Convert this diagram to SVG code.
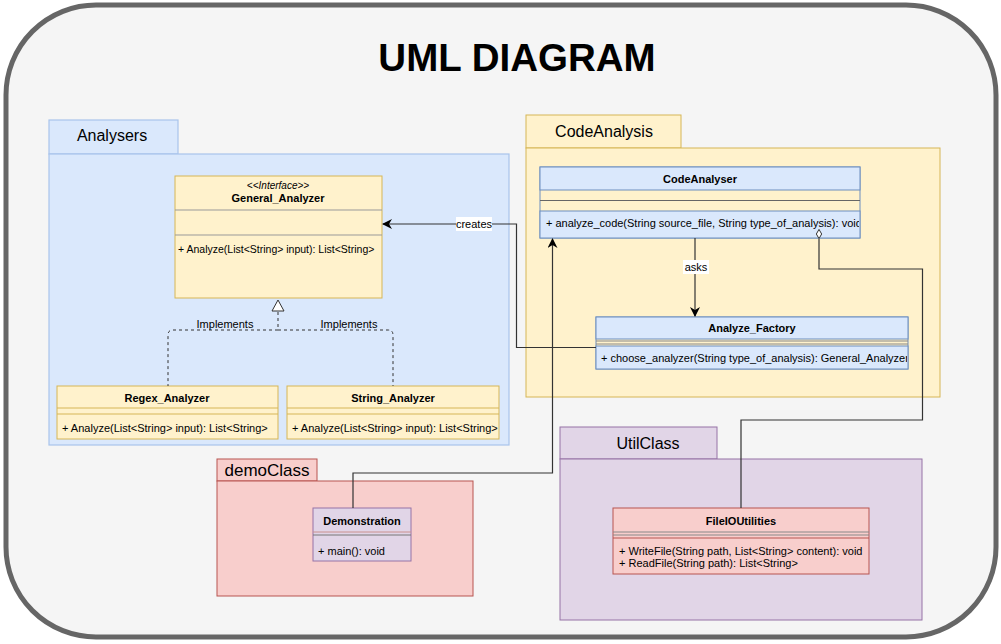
<svg xmlns="http://www.w3.org/2000/svg" width="1001" height="644" viewBox="0 0 1001 644">
<style>
text{font-family:"Liberation Sans",Arial,sans-serif;fill:#000}
.pkgl{font-size:16px;text-anchor:middle}
.cn{font-size:11px;font-weight:bold;text-anchor:middle}
.m{font-size:11px}
.lbl{font-size:11px;text-anchor:middle}
.blue{fill:#dae8fc;stroke:#6c8ebf;stroke-width:1}
.yel{fill:#fff2cc;stroke:#d6b656;stroke-width:1}
.red{fill:#f8cecc;stroke:#b85450;stroke-width:1}
.pur{fill:#e1d5e7;stroke:#9673a6;stroke-width:1}
.pkgblue{fill:#dae8fc;stroke:#a9c4eb;stroke-width:1.2}
.edge{fill:none;stroke:#333;stroke-width:1.2}
.dash{fill:none;stroke:#333;stroke-width:1;stroke-dasharray:3 3}
</style>
<defs>
<marker id="arr" viewBox="0 0 10 10" refX="9" refY="5" markerWidth="10" markerHeight="10" markerUnits="userSpaceOnUse" orient="auto">
<path d="M0,0 L10,5 L0,10 L3,5 Z" fill="#000"/>
</marker>
<marker id="dia" viewBox="0 0 12 8" refX="0" refY="4" markerWidth="10" markerHeight="7" markerUnits="userSpaceOnUse" orient="auto">
<path d="M0.5,4 L6,0.8 L11.5,4 L6,7.2 Z" fill="#fff" stroke="#333" stroke-width="1.2"/>
</marker>
<clipPath id="c1"><rect x="540" y="211" width="319" height="27"/></clipPath>
<clipPath id="c2"><rect x="596" y="346" width="311" height="23"/></clipPath>
<clipPath id="c3"><rect x="287" y="414" width="211" height="25"/></clipPath>
</defs>

<rect x="6" y="5" width="990" height="632" rx="90" ry="90" fill="#f5f5f5" stroke="#666" stroke-width="5"/>
<text x="517" y="71" style="font-size:38.5px;font-weight:bold;text-anchor:middle">UML DIAGRAM</text>

<g id="pkg-analysers">
<rect x="49" y="120" width="129" height="34" class="pkgblue"/>
<rect x="49" y="154" width="460" height="291" class="pkgblue"/>
<text x="112" y="141" class="pkgl">Analysers</text>
</g>

<g id="pkg-codeanalysis">
<rect x="526" y="115" width="155" height="33" class="yel"/>
<rect x="526" y="148" width="414" height="249" class="yel"/>
<text x="604" y="137" class="pkgl">CodeAnalysis</text>
</g>

<g id="pkg-democlass">
<rect x="217" y="459" width="100" height="22" class="red"/>
<rect x="217" y="481" width="256" height="115" class="red"/>
<text x="267" y="476" class="pkgl" style="font-size:17px">demoClass</text>
</g>

<g id="pkg-utilclass">
<rect x="560" y="427" width="157" height="32" class="pur"/>
<rect x="560" y="459" width="362" height="161" class="pur"/>
<text x="648" y="449" class="pkgl">UtilClass</text>
</g>

<g id="general-analyzer">
<rect x="175" y="176" width="207" height="122" class="yel"/>
<line x1="175" y1="210" x2="382" y2="210" style="stroke:#999"/>
<line x1="175" y1="235" x2="382" y2="235" style="stroke:#999"/>
<text x="278" y="189" style="font-size:10px;font-style:italic;text-anchor:middle">&lt;&lt;Interface&gt;&gt;</text>
<text x="278" y="202" class="cn">General_Analyzer</text>
<text x="178" y="253" class="m" style="font-size:10.5px">+ Analyze(List&lt;String&gt; input): List&lt;String&gt;</text>
</g>

<g id="regex-analyzer">
<rect x="57" y="386" width="221" height="53" class="yel"/>
<line x1="57" y1="408" x2="278" y2="408" stroke="#d6b656"/>
<line x1="57" y1="414" x2="278" y2="414" stroke="#d6b656"/>
<text x="167" y="402" class="cn">Regex_Analyzer</text>
<text x="62" y="432" class="m">+ Analyze(List&lt;String&gt; input): List&lt;String&gt;</text>
</g>

<g id="string-analyzer">
<rect x="287" y="386" width="212" height="53" class="yel"/>
<line x1="287" y1="408" x2="499" y2="408" stroke="#d6b656"/>
<line x1="287" y1="414" x2="499" y2="414" stroke="#d6b656"/>
<text x="393" y="402" class="cn">String_Analyzer</text>
<text x="292" y="432" class="m" clip-path="url(#c3)">+ Analyze(List&lt;String&gt; input): List&lt;String&gt;</text>
</g>

<g id="codeanalyser">
<rect x="540" y="167" width="320" height="71" fill="none" stroke="#6c8ebf"/>
<rect x="540" y="167" width="320" height="23" class="blue"/>
<line x1="540" y1="200.5" x2="860" y2="200.5" stroke="#666"/>
<rect x="540" y="211" width="320" height="27" class="blue"/>
<text x="700" y="183" class="cn">CodeAnalyser</text>
<text x="546" y="227" class="m" clip-path="url(#c1)">+ analyze_code(String source_file, String type_of_analysis): void</text>
</g>

<g id="analyze-factory">
<rect x="596" y="317" width="312" height="52" fill="none" stroke="#6c8ebf"/>
<rect x="596" y="317" width="312" height="22" class="blue"/>
<line x1="596" y1="341" x2="908" y2="341" stroke="#888"/>
<line x1="596" y1="344" x2="908" y2="344" stroke="#888"/>
<rect x="596" y="346" width="312" height="23" class="blue"/>
<text x="752" y="332" class="cn">Analyze_Factory</text>
<text x="601" y="362" class="m" clip-path="url(#c2)">+ choose_analyzer(String type_of_analysis): General_Analyzer</text>
</g>

<g id="demonstration">
<rect x="313" y="508" width="98" height="53" class="pur"/>
<line x1="313" y1="532" x2="411" y2="532" style="stroke:#c9908e"/>
<line x1="313" y1="535" x2="411" y2="535" stroke="#777"/>
<text x="362" y="525" class="cn">Demonstration</text>
<text x="318" y="555" class="m">+ main(): void</text>
</g>

<g id="fileioutilities">
<rect x="613" y="508" width="256" height="66" class="red"/>
<line x1="613" y1="532" x2="869" y2="532" stroke="#888"/>
<line x1="613" y1="535" x2="869" y2="535" stroke="#888"/>
<line x1="613" y1="538" x2="869" y2="538" stroke="#b85450"/>
<text x="741" y="525" class="cn">FileIOUtilities</text>
<text x="619" y="555" class="m">+ WriteFile(String path, List&lt;String&gt; content): void</text>
<text x="619" y="567" class="m">+ ReadFile(String path): List&lt;String&gt;</text>
</g>

<g id="connectors">
<path d="M278,312 V330 M278,330 H173 Q168,330 168,335 V386 M278,330 H388 Q393,330 393,335 V386" class="dash"/>
<path d="M278,300 L272,311 L284,311 Z" fill="#fff" stroke="#333" stroke-width="1"/>
<text x="225" y="328" class="lbl">Implements</text>
<text x="349" y="328" class="lbl">Implements</text>

<path d="M596,347.5 H516.5 V224 H383" class="edge" marker-end="url(#arr)"/>
<rect x="456" y="217" width="36" height="14" fill="#fff"/>
<text x="474" y="228" class="lbl">creates</text>

<path d="M695,238 V316" class="edge" marker-end="url(#arr)"/>
<rect x="683" y="260" width="26" height="14" fill="#fff"/>
<text x="696" y="271" class="lbl">asks</text>

<path d="M353,508 V473 H552.5 V239" class="edge" marker-end="url(#arr)"/>

<path d="M741,508 V420 H922.5 V269 H819 V250" class="edge"/>
<path d="M819,250 V239" class="edge" marker-end="url(#dia)"/>
</g>
</svg>
